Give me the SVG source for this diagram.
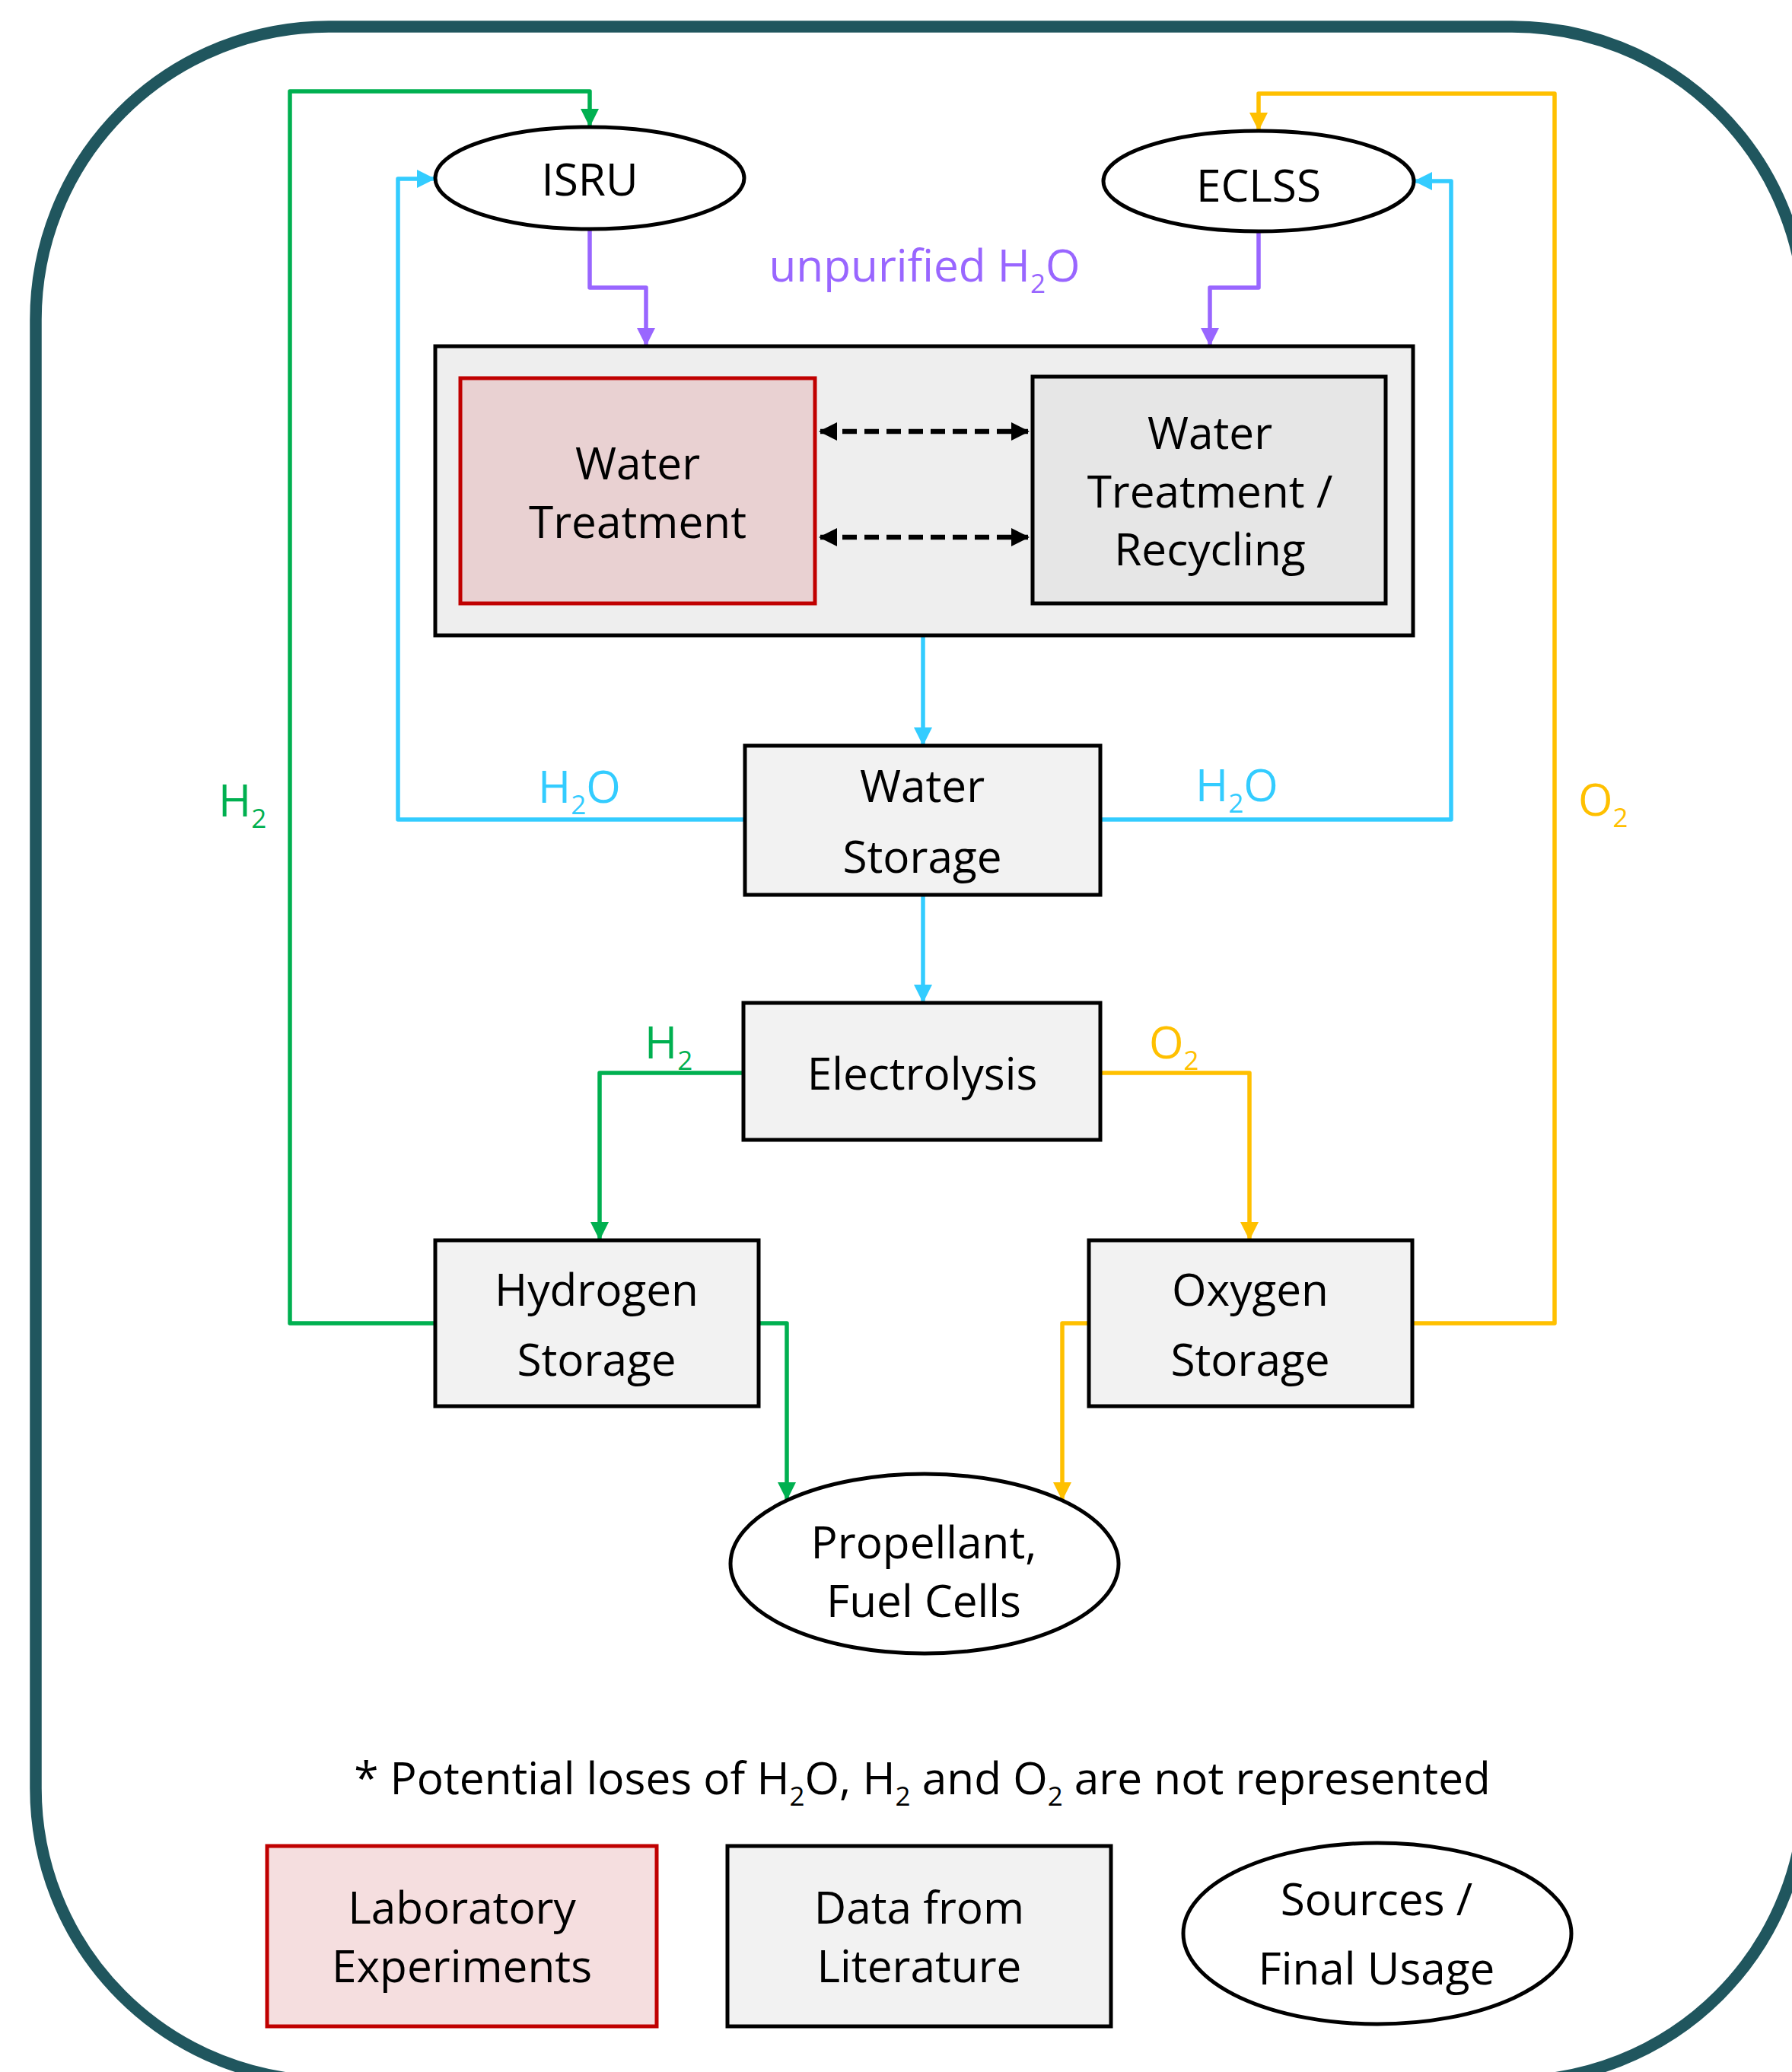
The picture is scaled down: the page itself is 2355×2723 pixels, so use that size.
<svg xmlns="http://www.w3.org/2000/svg" width="2355" height="2723" viewBox="0 0 2355 2723">
<defs>
<style>
text{font-family:"Open Sans","Noto Sans","Liberation Sans",sans-serif;font-size:58.5px;fill:#000}
.lbl{text-anchor:middle}
.sub{font-size:35px}
.box{fill:#F2F2F2;stroke:#000;stroke-width:5}
.ell{fill:#fff;stroke:#000;stroke-width:5}
.red{stroke:#C00000;stroke-width:5}
.c{fill:none;stroke-width:5.5;stroke-linejoin:round}
.g{stroke:#00B050}.y{stroke:#FFC000}.b{stroke:#33CCFF}.p{stroke:#9966FF}
.dash{fill:none;stroke:#000;stroke-width:6.5;stroke-dasharray:19 10}
</style>
<marker id="ag" markerUnits="userSpaceOnUse" markerWidth="24" markerHeight="24" refX="23" refY="12" orient="auto"><path d="M0,0 L24,12 L0,24 z" fill="#00B050"/></marker>
<marker id="ay" markerUnits="userSpaceOnUse" markerWidth="24" markerHeight="24" refX="23" refY="12" orient="auto"><path d="M0,0 L24,12 L0,24 z" fill="#FFC000"/></marker>
<marker id="ab" markerUnits="userSpaceOnUse" markerWidth="24" markerHeight="24" refX="23" refY="12" orient="auto"><path d="M0,0 L24,12 L0,24 z" fill="#33CCFF"/></marker>
<marker id="ap" markerUnits="userSpaceOnUse" markerWidth="24" markerHeight="24" refX="23" refY="12" orient="auto"><path d="M0,0 L24,12 L0,24 z" fill="#9966FF"/></marker>
<marker id="ak" markerUnits="userSpaceOnUse" markerWidth="24" markerHeight="24" refX="22" refY="12" orient="auto-start-reverse"><path d="M0,0 L24,12 L0,24 z" fill="#000"/></marker>
</defs>
<rect x="0" y="0" width="2355" height="2723" fill="#fff"/>
<rect id="frame" x="47" y="35" width="2325" height="2700" rx="385" ry="385" fill="none" stroke="#20565E" stroke-width="15.5"/>

<g id="connectors">
<path class="c g" d="M572,1739 H381 V120 H775 V166" marker-end="url(#ag)"/>
<path class="c b" d="M980,1077 H523 V235 H571" marker-end="url(#ab)"/>
<path class="c b" d="M1446,1077 H1907 V238 H1859" marker-end="url(#ab)"/>
<path class="c p" d="M775,301 V378 H849 V454" marker-end="url(#ap)"/>
<path class="c p" d="M1654,304 V378 H1590 V454" marker-end="url(#ap)"/>
<path class="c b" d="M1213,835 V979" marker-end="url(#ab)"/>
<path class="c b" d="M1213,1176 V1317" marker-end="url(#ab)"/>
<path class="c g" d="M977,1410 H788 V1629" marker-end="url(#ag)"/>
<path class="c y" d="M1446,1410 H1642 V1629" marker-end="url(#ay)"/>
<path class="c g" d="M997,1739 H1034 V1971" marker-end="url(#ag)"/>
<path class="c y" d="M1431,1739 H1396 V1971" marker-end="url(#ay)"/>
<path class="c y" d="M1857,1739 H2043 V123 H1654 V171" marker-end="url(#ay)"/>
</g>

<g id="isru">
<ellipse class="ell" cx="775" cy="234" rx="203" ry="67"/>
<text class="lbl" x="775" y="257">ISRU</text>
</g>
<g id="eclss">
<ellipse class="ell" cx="1654" cy="238" rx="204" ry="66"/>
<text class="lbl" x="1654" y="265">ECLSS</text>
</g>
<g id="label-unpurified">
<text class="lbl" x="1215" y="370" style="fill:#9966FF">unpurified H<tspan class="sub" dy="15">2</tspan><tspan dy="-15">O</tspan></text>
</g>

<g id="treatment-group">
<rect x="572" y="455" width="1285" height="380" fill="#EEEEEE" stroke="#000" stroke-width="5"/>
</g>
<g id="water-treatment-lab">
<rect class="red" x="605" y="497" width="466" height="296" fill="#E9D1D2"/>
<text class="lbl" x="838" y="630">Water</text>
<text class="lbl" x="838" y="707">Treatment</text>
</g>
<g id="water-treatment-recycling">
<rect x="1357" y="495" width="464" height="298" fill="#E6E6E6" stroke="#000" stroke-width="5"/>
<text class="lbl" x="1590" y="590">Water</text>
<text class="lbl" x="1590" y="667">Treatment /</text>
<text class="lbl" x="1590" y="743">Recycling</text>
</g>
<g id="dashed-links">
<path class="dash" d="M1078,567 H1351" marker-start="url(#ak)" marker-end="url(#ak)"/>
<path class="dash" d="M1078,706 H1351" marker-start="url(#ak)" marker-end="url(#ak)"/>
</g>

<g id="water-storage">
<rect class="box" x="979" y="980" width="467" height="196"/>
<text class="lbl" x="1212" y="1054">Water</text>
<text class="lbl" x="1212" y="1147">Storage</text>
</g>
<g id="labels-h2o">
<text x="707" y="1055" style="fill:#33CCFF">H<tspan class="sub" dy="15">2</tspan><tspan dy="-15">O</tspan></text>
<text x="1571" y="1053" style="fill:#33CCFF">H<tspan class="sub" dy="15">2</tspan><tspan dy="-15">O</tspan></text>
<text x="287" y="1073" style="fill:#00B050">H<tspan class="sub" dy="15">2</tspan></text>
<text x="2074" y="1072" style="fill:#FFC000">O<tspan class="sub" dy="15">2</tspan></text>
<text x="847" y="1391" style="fill:#00B050">H<tspan class="sub" dy="15">2</tspan></text>
<text x="1510" y="1391" style="fill:#FFC000">O<tspan class="sub" dy="15">2</tspan></text>
</g>

<g id="electrolysis">
<rect class="box" x="977" y="1318" width="469" height="180"/>
<text class="lbl" x="1212" y="1432">Electrolysis</text>
</g>
<g id="hydrogen-storage">
<rect class="box" x="572" y="1630" width="425" height="218"/>
<text class="lbl" x="784" y="1716">Hydrogen</text>
<text class="lbl" x="784" y="1808">Storage</text>
</g>
<g id="oxygen-storage">
<rect class="box" x="1431" y="1630" width="425" height="218"/>
<text class="lbl" x="1643" y="1716">Oxygen</text>
<text class="lbl" x="1643" y="1808">Storage</text>
</g>
<g id="propellant">
<ellipse class="ell" cx="1215" cy="2055" rx="255" ry="118"/>
<text class="lbl" x="1214" y="2048">Propellant,</text>
<text class="lbl" x="1214" y="2125">Fuel Cells</text>
</g>

<g id="footnote">
<text class="lbl" x="1212" y="2358">* Potential loses of H<tspan class="sub" dy="15">2</tspan><tspan dy="-15">O, H</tspan><tspan class="sub" dy="15">2</tspan><tspan dy="-15"> and O</tspan><tspan class="sub" dy="15">2</tspan><tspan dy="-15"> are not represented</tspan></text>
</g>

<g id="legend-lab">
<rect class="red" x="351" y="2426" width="512" height="237" fill="#F5DEDF"/>
<text class="lbl" x="607" y="2528">Laboratory</text>
<text class="lbl" x="607" y="2605">Experiments</text>
</g>
<g id="legend-literature">
<rect class="box" x="956" y="2426" width="504" height="237"/>
<text class="lbl" x="1208" y="2528">Data from</text>
<text class="lbl" x="1208" y="2605">Literature</text>
</g>
<g id="legend-sources">
<ellipse class="ell" cx="1810" cy="2541" rx="255" ry="119"/>
<text class="lbl" x="1809" y="2517">Sources /</text>
<text class="lbl" x="1809" y="2608">Final Usage</text>
</g>
</svg>
